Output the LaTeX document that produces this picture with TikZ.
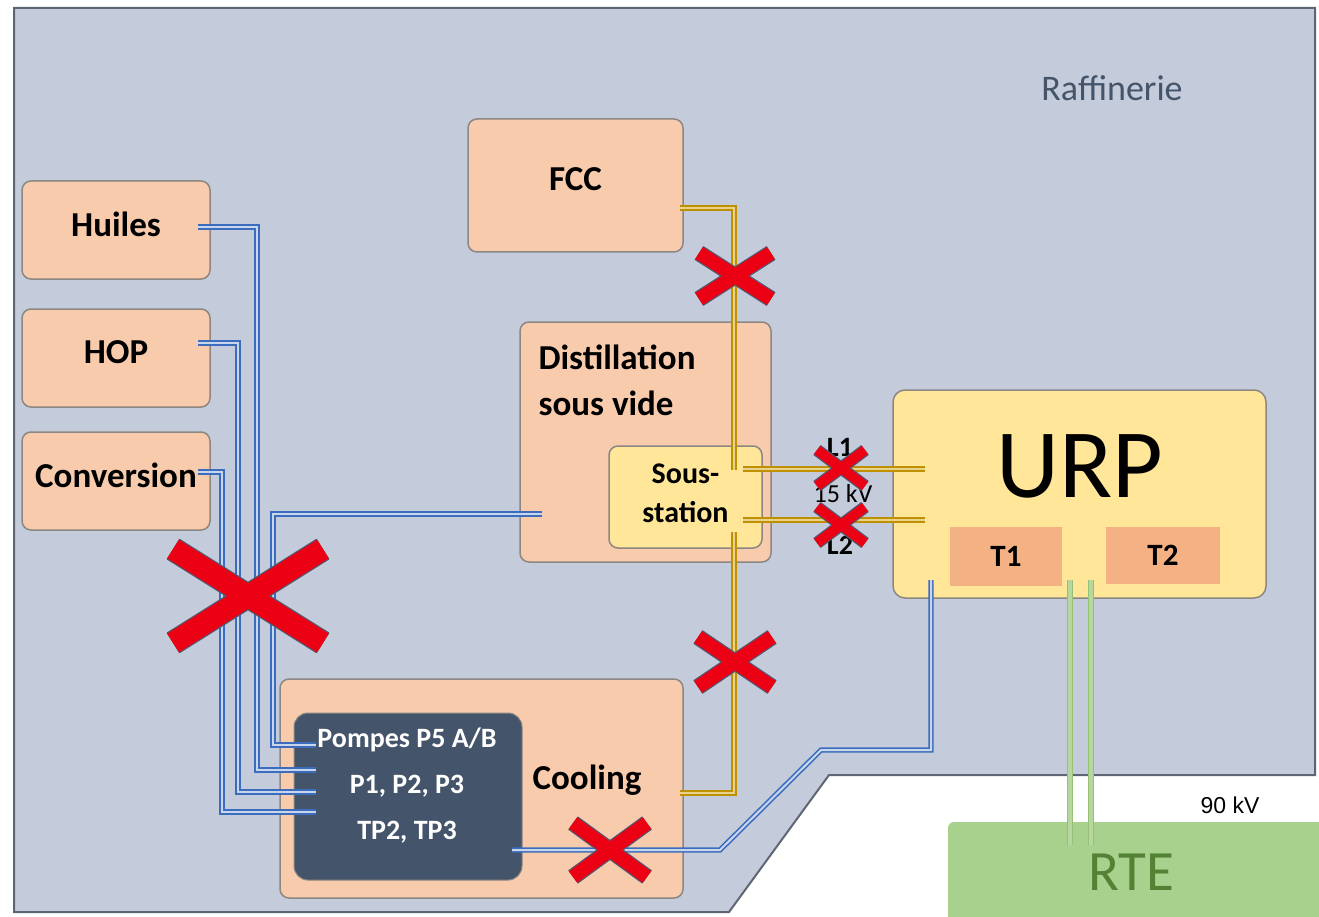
\documentclass[tikz,border=0pt]{standalone}
\usepackage{fontspec}
\setmainfont{Carlito}
\newfontfamily\arialfont{Liberation Sans}
\usetikzlibrary{calc}

\definecolor{plantbg}{RGB}{196,203,218}
\definecolor{plantline}{RGB}{95,102,115}
\definecolor{unitfill}{RGB}{248,203,173}
\definecolor{unitline}{RGB}{140,135,130}
\definecolor{yellowfill}{RGB}{255,230,153}
\definecolor{trafofill}{RGB}{244,177,131}
\definecolor{pumpfill}{RGB}{68,84,106}
\definecolor{rtefill}{RGB}{169,209,142}
\definecolor{rtetext}{RGB}{84,130,53}
\definecolor{cableblue}{RGB}{60,108,190}
\definecolor{cablegap}{RGB}{200,214,236}
\definecolor{cablegold}{RGB}{191,144,0}
\definecolor{goldgap}{RGB}{232,210,140}
\definecolor{linegreen}{RGB}{150,192,120}
\definecolor{greengap}{RGB}{182,215,158}
\definecolor{crossred}{RGB}{235,0,20}
\definecolor{crossedge}{RGB}{80,90,115}

% red cross: centre x, centre y, half width, half height, stroke
\newcommand{\redcross}[5]{%
  \draw[draw=crossedge, line width=#5pt+2.4pt]
    ({#1-#3},{#2-#4}) -- ({#1+#3},{#2+#4})
    ({#1-#3},{#2+#4}) -- ({#1+#3},{#2-#4});
  \draw[draw=crossred, line width=#5pt]
    ({#1-#3},{#2-#4}) -- ({#1+#3},{#2+#4})
    ({#1-#3},{#2+#4}) -- ({#1+#3},{#2-#4});
}

\tikzset{
  unit/.style={draw=unitline, line width=1.5pt, fill=unitfill, rounded corners=9pt,
    inner sep=0pt, text depth=12pt, font=\bfseries\fontsize{35}{42}\selectfont},
  substation/.style={unit, fill=yellowfill, text depth=8pt,
    font=\bfseries\fontsize{30}{39}\selectfont, align=center},
  trafo/.style={fill=trafofill, inner sep=0pt, font=\bfseries\fontsize{31}{36}\selectfont},
  pumps/.style={fill=pumpfill, draw=unitline, line width=1pt, rounded corners=14pt},
  bluecable/.style={draw=cableblue, line width=1.6pt, double=cablegap, double distance=2pt},
  goldcable/.style={draw=cablegold, line width=1.6pt, double=goldgap, double distance=2pt},
  greencable/.style={draw=linegreen, line width=1pt, double=greengap, double distance=4pt}
}

\begin{document}
\begin{tikzpicture}[x=1pt, y=-1pt]
    \useasboundingbox (0,0) rectangle (1319,917);
    \fill[white] (0,0) rectangle (1319,917);

    % refinery site
    \draw[fill=plantbg, draw=plantline, line width=2pt]
      (14,8) -- (1315,8) -- (1315,775) -- (829,775) -- (729,912) -- (14,912) -- cycle;
    \node[text=pumpfill, font=\fontsize{36}{40}\selectfont] (raff) at (1112,88) {Raffinerie};

    % grid
    \fill[rtefill, rounded corners=6pt] (948,822) rectangle (1340,940);
    \node[text=rtetext, font=\fontsize{57}{60}\selectfont] (rte) at (1131,872) {RTE};
    \node[font=\arialfont\fontsize{23}{26}\selectfont] (hv) at (1230,805) {90 kV};

    % units
    \node[unit, minimum width=188, minimum height=98] (huiles) at (116,230) {Huiles};
    \node[unit, minimum width=188, minimum height=98] (hop) at (116,358) {HOP};
    \node[unit, minimum width=188, minimum height=98] (conv) at (116,481) {Conversion};
    \node[unit, minimum width=215, minimum height=133] (fcc) at (575.5,185.5) {FCC};
    \node[unit, minimum width=251, minimum height=240] (dist) at (645.5,442) {};
    \node[anchor=west, align=left, font=\bfseries\fontsize{35}{46}\selectfont] (distlbl) at (535,380) {Distillation\\sous vide};
    \node[substation, minimum width=153, minimum height=102] (sous) at (685.5,497) {Sous-\\station};
    \node[unit, minimum width=403, minimum height=219] (cool) at (481.5,788.5) {};
    \node[font=\bfseries\fontsize{35}{42}\selectfont] (coollbl) at (587,780) {Cooling};
    \node[pumps, minimum width=228, minimum height=167] (pompes) at (408,796.5) {};
    \node[text=white, align=center, font=\bfseries\fontsize{28}{46}\selectfont] (pompeslbl) at (407,786)
      {Pompes P5 A/B\\P1, P2, P3\\TP2, TP3};

    % production unit
    \node[unit, fill=yellowfill, rounded corners=12pt, minimum width=373, minimum height=208] (urp) at (1079.5,494) {};
    \node[font=\fontsize{98}{100}\selectfont] (urplbl) at (1080,466) {URP};
    \node[trafo, minimum width=112, minimum height=59] (t1) at (1006,556.5) {T1};
    \node[trafo, minimum width=114, minimum height=57] (t2) at (1163,555.5) {T2};

    % line labels
    \node[font=\bfseries\fontsize{28}{30}\selectfont] (l1) at (840,447) {L1};
    \node[font=\fontsize{26}{28}\selectfont] (kv) at (843,494) {15 kV};
    \node[font=\bfseries\fontsize{28}{30}\selectfont] (l2) at (840,545) {L2};

    % cable ends
    \coordinate (huOut) at (198,227);
    \coordinate (hopOut) at (198,343);
    \coordinate (convOut) at (198,472);
    \coordinate (distOut) at (542,514);
    \coordinate (pIn1) at (316,745);
    \coordinate (pIn2) at (316,770);
    \coordinate (pIn3) at (316,792);
    \coordinate (pIn4) at (316,812);
    \coordinate (tpOut) at (512,850);
    \coordinate (urpIn) at (931,580);
    \coordinate (fccOut) at (680,208);
    \coordinate (ssTop) at (734,470);
    \coordinate (coolOut) at (680,793);
    \coordinate (ssBot) at (734,532);
    \coordinate (ssL1) at (743,469);
    \coordinate (urpL1) at (925,469);
    \coordinate (ssL2) at (743,520);
    \coordinate (urpL2) at (925,520);

    % low voltage cables
    \draw[bluecable] (distOut) -| (273,745) -- (pIn1);
    \draw[bluecable] (huOut) -| (257,770) -- (pIn2);
    \draw[bluecable] (hopOut) -| (238,792) -- (pIn3);
    \draw[bluecable] (convOut) -| (222,812) -- (pIn4);
    \draw[bluecable] (tpOut) -- (720,850) -- (821,750) -| (urpIn);

    % 15 kV cables
    \draw[goldcable] (fccOut) -| (ssTop);
    \draw[goldcable] (coolOut) -| (ssBot);
    \draw[goldcable] (ssL1) -- (urpL1);
    \draw[goldcable] (ssL2) -- (urpL2);

    % 90 kV lines
    \draw[greencable] (1070,580) -- (1070,845);
    \draw[greencable] (1091,580) -- (1091,845);

    % failures
    \redcross{735}{276}{36}{23}{14}
    \redcross{735}{662}{37}{25}{14}
    \redcross{610}{850}{37}{27}{14}
    \redcross{248}{596}{75}{47}{22}
    \redcross{841}{468}{24}{18}{10}
    \redcross{841}{525}{24}{18}{10}
\end{tikzpicture}
\end{document}
